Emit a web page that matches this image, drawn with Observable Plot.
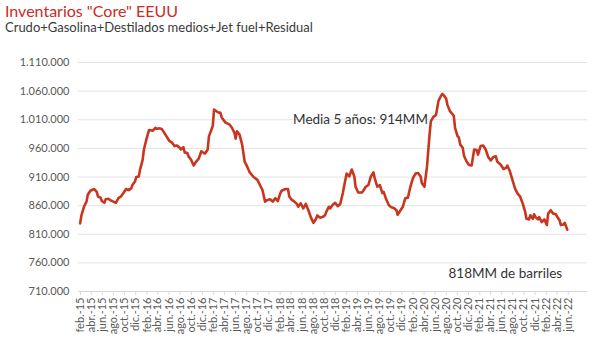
<!DOCTYPE html>
<html><head><meta charset="utf-8">
<script src="https://cdn.jsdelivr.net/npm/d3@7"></script>
<script src="https://cdn.jsdelivr.net/npm/@observablehq/plot@0.6"></script>
<style>
body{margin:0;background:#fff;width:600px;height:363px;overflow:hidden;font-family:Lato,"Open Sans",sans-serif;position:relative;}
#title{position:absolute;left:5px;top:1px;font-size:16px;color:#cc2a24;white-space:nowrap;}
#sub{position:absolute;left:5px;top:19px;font-size:13px;color:#3a3a3a;white-space:nowrap;}
#chart{position:absolute;left:0;top:38px;}
</style></head><body>
<div id="title">Inventarios "Core" EEUU</div>
<div id="sub">Crudo+Gasolina+Destilados medios+Jet fuel+Residual</div>
<div id="chart"></div>
<script>
// Weekly observations: week index counted from the first report date
const startDate = "2015-01-30";
const weeks = [
  0,1,3,5,6,8,11,13,14,16,17,19,20,22,25,26,28,30,32,34,36,38,40,41,43,44,46,47,49,50,
  52,53,54,57,59,60,62,64,66,68,70,72,74,76,78,79,81,82,84,85,87,89,91,93,95,97,
  98,100,101,104,105,108,110,111,114,117,119,121,122,123,125,127,129,131,133,136,
  139,141,143,145,147,149,151,153,155,157,158,161,163,164,166,168,170,171,173,175,
  177,179,181,183,185,186,188,190,192,
  193,195,196,198,200,202,204,206,208,209,211,213,215,216,218,221,222,224,226,228,
  230,231,233,235,237,238,240,242,244,246,248,249,251,253,255,257,259,261,263,265,
  267,268,270,272,274,275,277,279,281,283,284,285,287,288,290,
  293,294,296,297,298,300,301,303,305,307,309,311,312,314,316,318,320,322,324,326,
  327,330,332,334,335,337,339,341,343,345,347,349,350,352,353,355,356,357,359,360,
  362,364,366,367,369,371,373,374,376,377,379,380,382
];
// Inventories, thousands of barrels (thousands)
const values = [
  829,843,858,867,879,886,889,884,876,874,868,865,871,872,868,867,865,873,876,882,
  889,887,890,896,902,910,911,923,940,958,976,984,992,991,996,994,995,994,987,980,
  973,970,964,965,961,958,962,953,952,946,940,930,937,942,955,952,
  951,958,981,999,1028,1023,1022,1014,1005,1002,996,987,977,990,984,967,937,928,918,910,
  905,896,887,867,870,871,867,873,868,882,886,889,889,876,870,867,863,858,864,855,
  863,852,839,830,837,843,839,840,843,
  849,858,855,861,865,859,863,882,905,916,911,923,911,893,883,883,886,893,896,911,
  918,908,893,896,882,884,871,861,857,856,852,844,851,858,873,874,893,908,916,917,
  911,899,893,928,984,1007,1015,1018,1043,1052,1055,1053,1047,1036,1025,
  1017,996,981,979,967,961,947,937,931,930,958,957,949,964,965,958,945,939,945,946,
  937,931,924,926,930,920,905,890,881,876,864,849,837,836,843,837,845,840,836,840,
  831,836,826,846,852,846,845,841,834,826,827,830,818
];
const yTicks = [710000,760000,810000,860000,910000,960000,1010000,1060000,1110000];
const monthNames = ["ene.","feb.","mar.","abr.","may.","jun.","jul.","ago.","sept.","oct.","nov.","dic."];
const firstTick = "2015-02-01", lastTick = "2022-06-01";
const noteLabels = ["Media 5 años: 914MM", "818MM de barriles"];
const noteDates = ["2018-04-13", "2020-08-13"];
const noteValues = [1011000, 741000];

const data = weeks.map((w, i) => ({date: d3.utcDay.offset(new Date(startDate), 7 * w), value: values[i] * 1000}));
const xTicks = d3.utcMonth.range(new Date(firstTick), d3.utcDay.offset(new Date(lastTick), 1), 2);
const notes = noteLabels.map((t, i) => ({label: t, date: new Date(noteDates[i]), value: noteValues[i]}));
const yFmt = v => d3.format(",")(v).replace(/,/g, ".");
const xFmt = d => monthNames[d.getUTCMonth()] + "-" + String(d.getUTCFullYear()).slice(2);

const chart = Plot.plot({
  width: 600, height: 325,
  marginLeft: 78, marginRight: 13, marginTop: 24, marginBottom: 72,
  style: {fontFamily: "Lato, 'Open Sans', sans-serif", fontSize: "11px", color: "#595959", background: "#fff"},
  x: {type: "utc", domain: [new Date("2015-01-21"), new Date("2022-09-15")]},
  y: {domain: [710000, 1110000]},
  marks: [
    Plot.gridY(yTicks, {stroke: "#e4e4e4", strokeOpacity: 1}),
    Plot.ruleY([710000], {stroke: "#d9d9d9"}),
    Plot.axisY(yTicks, {tickSize: 0, tickPadding: 9, tickFormat: yFmt, label: null, fill: "#595959"}),
    Plot.axisX(xTicks, {tickRotate: -90, tickFormat: xFmt, tickSize: 4, tickPadding: 2, label: null, stroke: "#d9d9d9", fill: "#595959"}),
    Plot.line(data, {x: "date", y: "value", stroke: "#c9361f", strokeWidth: 2.6}),
    Plot.text(notes, {x: "date", y: "value", text: "label", textAnchor: "start", fontSize: 13.5, fill: "#333"})
  ]
});
document.getElementById("chart").appendChild(chart);
</script>
</body></html>
